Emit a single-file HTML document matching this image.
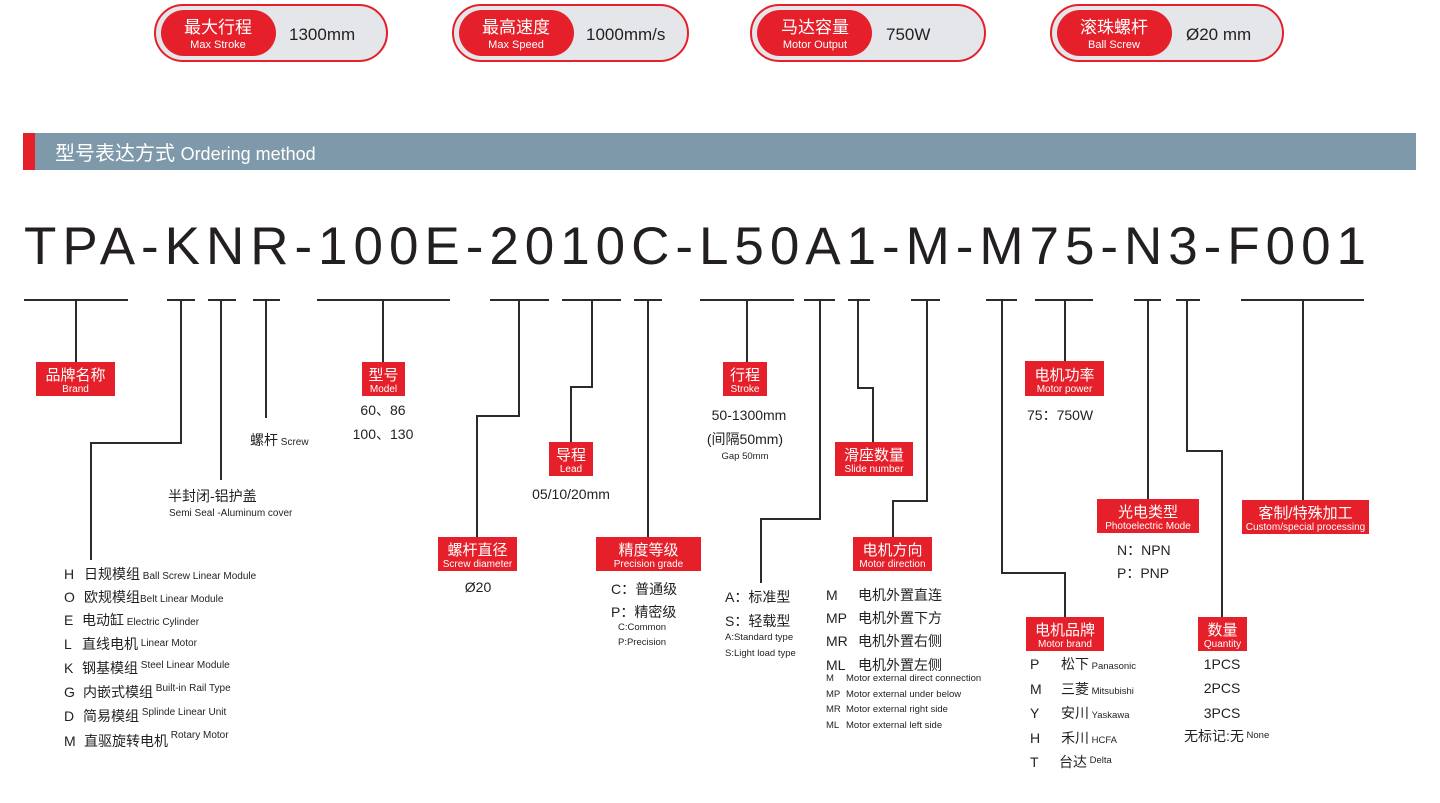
<!DOCTYPE html>
<html><head><meta charset="utf-8"><style>
html,body{margin:0;padding:0;background:#fff;}
svg{display:block;font-family:"Liberation Sans","Noto Sans CJK SC",sans-serif;}
.c{font-family:"Liberation Sans","Noto Sans CJK SC",sans-serif;}
.ln{stroke:#2b2b2b;stroke-width:2;fill:none;}
.bx{fill:#e5202a;}
.bz{fill:#fff;font-size:15px;text-anchor:middle;}
.be{fill:#fff;font-size:10px;text-anchor:middle;}
.t{fill:#231f20;}
</style></head><body>
<svg width="1440" height="803" viewBox="0 0 1440 803" xmlns="http://www.w3.org/2000/svg">
<!-- pills -->
<g>
<rect x="155" y="5" width="232" height="56" rx="28" fill="#e4e6ea" stroke="#e5202a" stroke-width="2"/>
<rect x="161" y="10" width="115" height="46" rx="23" fill="#e5202a"/>
<text x="218" y="33" class="bz" style="font-size:17px">最大行程</text><text x="218" y="48" class="be" style="font-size:11px">Max Stroke</text>
<text x="289" y="40" class="t" font-size="17">1300mm</text>

<rect x="453" y="5" width="235" height="56" rx="28" fill="#e4e6ea" stroke="#e5202a" stroke-width="2"/>
<rect x="459" y="10" width="115" height="46" rx="23" fill="#e5202a"/>
<text x="516" y="33" class="bz" style="font-size:17px">最高速度</text><text x="516" y="48" class="be" style="font-size:11px">Max Speed</text>
<text x="586" y="40" class="t" font-size="17">1000mm/s</text>

<rect x="751" y="5" width="234" height="56" rx="28" fill="#e4e6ea" stroke="#e5202a" stroke-width="2"/>
<rect x="757" y="10" width="115" height="46" rx="23" fill="#e5202a"/>
<text x="815" y="33" class="bz" style="font-size:17px">马达容量</text><text x="815" y="48" class="be" style="font-size:11px">Motor Output</text>
<text x="886" y="40" class="t" font-size="17">750W</text>

<rect x="1051" y="5" width="232" height="56" rx="28" fill="#e4e6ea" stroke="#e5202a" stroke-width="2"/>
<rect x="1057" y="10" width="115" height="46" rx="23" fill="#e5202a"/>
<text x="1114" y="33" class="bz" style="font-size:17px">滚珠螺杆</text><text x="1114" y="48" class="be" style="font-size:11px">Ball Screw</text>
<text x="1186" y="40" class="t" font-size="17">Ø20 mm</text>
</g>
<!-- header -->
<rect x="23" y="133" width="1393" height="37" fill="#7e99aa"/>
<rect x="23" y="133" width="12" height="37" fill="#e5202a"/>
<text x="55" y="160" fill="#fff" font-size="20">型号表达方式 <tspan font-size="18">Ordering method</tspan></text>
<!-- big code -->
<text x="24" y="264" class="t" font-size="53" textLength="1342" lengthAdjust="spacing">TPA-KNR-100E-2010C-L50A1-M-M75-N3-F001</text>
<!-- underlines -->
<g class="ln">
<path d="M24 300H128M76 300V365"/>
<path d="M167 300H195M181 300V443H91V560"/>
<path d="M208 300H236M221 300V480"/>
<path d="M253 300H280M266 300V418"/>
<path d="M317 300H450M383 300V363"/>
<path d="M490 300H549M519 300V416H477V537"/>
<path d="M562 300H621M592 300V387H571V442"/>
<path d="M634 300H662M648 300V537"/>
<path d="M700 300H794M747 300V362"/>
<path d="M804 300H835M820 300V519H761V583"/>
<path d="M848 300H870M858 300V388H873V442"/>
<path d="M911 300H940M927 300V501H893V537"/>
<path d="M986 300H1017M1002 300V573H1065V617"/>
<path d="M1035 300H1093M1065 300V361"/>
<path d="M1134 300H1161M1148 300V499"/>
<path d="M1176 300H1200M1187 300V451H1222V617"/>
<path d="M1241 300H1364M1303 300V500"/>
</g>
<!-- boxes -->
<g>
<rect class="bx" x="36" y="362" width="79" height="34"/><text class="bz" x="75.5" y="380">品牌名称</text><text class="be" x="75.5" y="392">Brand</text>
<rect class="bx" x="362" y="362" width="43" height="34"/><text class="bz" x="383.5" y="380">型号</text><text class="be" x="383.5" y="392">Model</text>
<rect class="bx" x="438" y="537" width="79" height="34"/><text class="bz" x="477.5" y="555">螺杆直径</text><text class="be" x="477.5" y="567">Screw diameter</text>
<rect class="bx" x="549" y="442" width="44" height="34"/><text class="bz" x="571" y="460">导程</text><text class="be" x="571" y="472">Lead</text>
<rect class="bx" x="596" y="537" width="105" height="34"/><text class="bz" x="648.5" y="555">精度等级</text><text class="be" x="648.5" y="567">Precision grade</text>
<rect class="bx" x="723" y="362" width="44" height="34"/><text class="bz" x="745" y="380">行程</text><text class="be" x="745" y="392">Stroke</text>
<rect class="bx" x="835" y="442" width="78" height="34"/><text class="bz" x="874" y="460">滑座数量</text><text class="be" x="874" y="472">Slide number</text>
<rect class="bx" x="853" y="537" width="79" height="34"/><text class="bz" x="892.5" y="555">电机方向</text><text class="be" x="892.5" y="567">Motor direction</text>
<rect class="bx" x="1025" y="361" width="79" height="35"/><text class="bz" x="1064.5" y="380">电机功率</text><text class="be" x="1064.5" y="392">Motor power</text>
<rect class="bx" x="1026" y="617" width="78" height="34"/><text class="bz" x="1065" y="635">电机品牌</text><text class="be" x="1065" y="647">Motor brand</text>
<rect class="bx" x="1097" y="499" width="102" height="34"/><text class="bz" x="1148" y="517">光电类型</text><text class="be" x="1148" y="529">Photoelectric Mode</text>
<rect class="bx" x="1198" y="617" width="49" height="34"/><text class="bz" x="1222.5" y="635">数量</text><text class="be" x="1222.5" y="647">Quantity</text>
<rect class="bx" x="1242" y="500" width="127" height="34"/><text class="bz" x="1305.5" y="518">客制/特殊加工</text><text class="be" x="1305.5" y="530">Custom/special processing</text>
</g>
<!-- texts -->
<g class="t" font-size="14">
<text x="250" y="445">螺杆<tspan font-size="10"> Screw</tspan></text>
<text x="168" y="501">半封闭-铝护盖</text>
<text x="169" y="516" font-size="10">Semi Seal -Aluminum cover</text>
<text x="383" y="415" text-anchor="middle">60、86</text>
<text x="383" y="439" text-anchor="middle">100、130</text>
<text x="478" y="592" text-anchor="middle">Ø20</text>
<text x="571" y="499" text-anchor="middle">05/10/20mm</text>
<text x="611" y="594">C：普通级</text>
<text x="611" y="617">P：精密级</text>
<text x="618" y="630" font-size="9.5">C:Common</text>
<text x="618" y="645" font-size="9.5">P:Precision</text>
<text x="749" y="420" text-anchor="middle">50-1300mm</text>
<text x="745" y="444" text-anchor="middle">(间隔50mm)</text>
<text x="745" y="459" text-anchor="middle" font-size="9.5">Gap 50mm</text>
<text x="725" y="602">A：标准型</text>
<text x="725" y="626">S：轻载型</text>
<text x="725" y="640" font-size="9.5">A:Standard type</text>
<text x="725" y="656" font-size="9.5">S:Light load type</text>
<text x="826" y="600">M<tspan x="858">电机外置直连</tspan></text>
<text x="826" y="623">MP<tspan x="858">电机外置下方</tspan></text>
<text x="826" y="646">MR<tspan x="858">电机外置右侧</tspan></text>
<text x="826" y="670">ML<tspan x="858">电机外置左侧</tspan></text>
<g font-size="9.5"><text x="826" y="681">M<tspan x="846">Motor  external direct connection</tspan></text>
<text x="826" y="697">MP<tspan x="846">Motor external under below</tspan></text>
<text x="826" y="712">MR<tspan x="846">Motor external right side</tspan></text>
<text x="826" y="728">ML<tspan x="846">Motor external left side</tspan></text></g>
<text x="1027" y="420">75：750W</text>
<text x="1117" y="555">N：NPN</text>
<text x="1117" y="578">P：PNP</text>
<text x="1030" y="669">P<tspan x="1061">松下</tspan><tspan font-size="9.5"> Panasonic</tspan></text>
<text x="1030" y="694">M<tspan x="1061">三菱</tspan><tspan font-size="9.5"> Mitsubishi</tspan></text>
<text x="1030" y="718">Y<tspan x="1061">安川</tspan><tspan font-size="9.5"> Yaskawa</tspan></text>
<text x="1030" y="743">H<tspan x="1061">禾川</tspan><tspan font-size="9.5"> HCFA</tspan></text>
<text x="1030" y="767">T<tspan x="1059">台达</tspan><tspan font-size="9.5" dy="-4"> Delta</tspan></text>
<text x="1222" y="669" text-anchor="middle">1PCS</text>
<text x="1222" y="693" text-anchor="middle">2PCS</text>
<text x="1222" y="718" text-anchor="middle">3PCS</text>
<text x="1184" y="741">无标记:无<tspan font-size="9.5" dy="-3"> None</tspan></text>
<text x="64" y="579">H<tspan x="84">日规模组</tspan><tspan font-size="10"> Ball Screw Linear Module</tspan></text>
<text x="64" y="602">O<tspan x="84">欧规模组</tspan><tspan font-size="10">Belt Linear Module</tspan></text>
<text x="64" y="625">E<tspan x="82">电动缸</tspan><tspan font-size="10"> Electric Cylinder</tspan></text>
<text x="64" y="649">L<tspan x="82">直线电机</tspan><tspan font-size="10" dy="-3"> Linear Motor</tspan></text>
<text x="64" y="673">K<tspan x="82">钢基模组</tspan><tspan font-size="10" dy="-5"> Steel Linear Module</tspan></text>
<text x="64" y="697">G<tspan x="83">内嵌式模组</tspan><tspan font-size="10" dy="-6"> Built-in Rail Type</tspan></text>
<text x="64" y="721">D<tspan x="83">简易模组</tspan><tspan font-size="10" dy="-6"> Splinde Linear Unit</tspan></text>
<text x="64" y="746">M<tspan x="84">直驱旋转电机</tspan><tspan font-size="10" dy="-8"> Rotary Motor</tspan></text>
</g>
</svg>
</body></html>
